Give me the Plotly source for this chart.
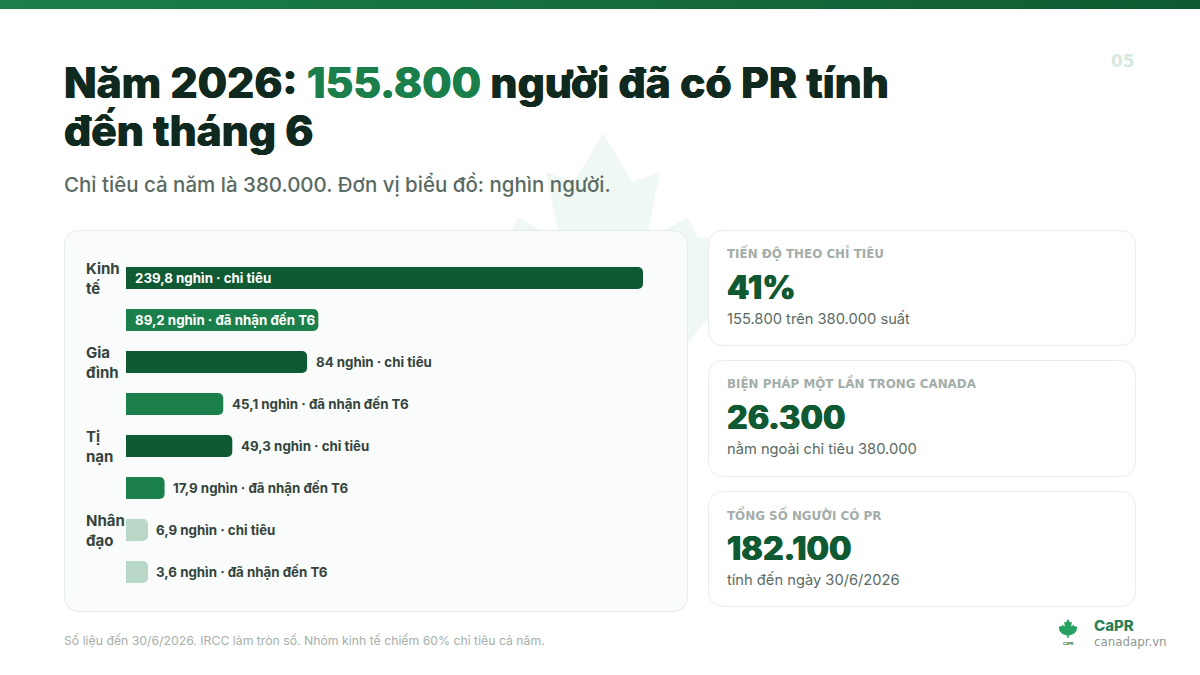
import plotly.graph_objects as go

W, H = 1200, 675
FONT = "Inter"

# data, in thousands of people
groups = ["Kinh tế", "Gia đình", "Tị nạn", "Nhân đạo"]
group_lines = ["Kinh<br>tế", "Gia<br>đình", "Tị<br>nạn", "Nhân<br>đạo"]
quota = [239.8, 84, 49.3, 6.9]
received = [89.2, 45.1, 17.9, 3.6]
kinds = ["chỉ tiêu", "đã nhận đến T6"]
min_bar = 10.2  # small groups are drawn with a minimum width

title_before = "Năm 2026: "
title_figure = "155.800"
title_after = " người đã có PR tính"
title_line2 = "đến tháng 6"
subtitle = "Chỉ tiêu cả năm là 380.000. Đơn vị biểu đồ: nghìn người."
footnote = "Số liệu đến 30/6/2026. IRCC làm tròn số. Nhóm kinh tế chiếm 60% chỉ tiêu cả năm."

card_labels = ["TIẾN ĐỘ THEO CHỈ TIÊU", "BIỆN PHÁP MỘT LẦN TRONG CANADA", "TỔNG SỐ NGƯỜI CÓ PR"]
card_values = ["41%", "26.300", "182.100"]
card_notes = ["155.800 trên 380.000 suất", "nằm ngoài chỉ tiêu 380.000", "tính đến ngày 30/6/2026"]

DARK = "#0F5A32"
MID = "#1A7F4B"
PALE = "#B9D8C8"
INK = "#10291E"
TEXT = "#34443D"
MUTED = "#5A6B64"


def px(x):
    return x / W


def py(y):
    return 1 - y / H


def fmt(v):
    return f"{v:g}".replace(".", ",") + " nghìn"


def rounded(x0, y0, x1, y1, r, fill, line=None):
    p = (
        f"M {px(x0 + r)} {py(y0)} L {px(x1 - r)} {py(y0)} Q {px(x1)} {py(y0)} {px(x1)} {py(y0 + r)} "
        f"L {px(x1)} {py(y1 - r)} Q {px(x1)} {py(y1)} {px(x1 - r)} {py(y1)} "
        f"L {px(x0 + r)} {py(y1)} Q {px(x0)} {py(y1)} {px(x0)} {py(y1 - r)} "
        f"L {px(x0)} {py(y0 + r)} Q {px(x0)} {py(y0)} {px(x0 + r)} {py(y0)} Z"
    )
    return dict(type="path", path=p, xref="paper", yref="paper", fillcolor=fill,
                line=dict(color=line or fill, width=1), layer="below")


# right half of a maple leaf, tip at 0,0
leaf_half = [(0, 0), (29, 49), (57, 39), (45, 99), (50, 104), (85, 84), (94, 104),
             (135, 110), (122, 150), (128, 160), (85, 209), (10, 240), (10, 270)]


def leaf(cx, top, scale, fill):
    pts = [(cx + dx * scale, top + dy * scale) for dx, dy in leaf_half]
    pts += [(cx - dx * scale, top + dy * scale) for dx, dy in reversed(leaf_half)]
    p = "M " + " L ".join(f"{px(x)} {py(y)}" for x, y in pts) + " Z"
    return dict(type="path", path=p, xref="paper", yref="paper", fillcolor=fill,
                line=dict(width=0), layer="below")


def mix(a, b, t):
    ca = [int(a[i:i + 2], 16) for i in (1, 3, 5)]
    cb = [int(b[i:i + 2], 16) for i in (1, 3, 5)]
    return "rgb(%d,%d,%d)" % tuple(round(u + (v - u) * t) for u, v in zip(ca, cb))


def label(x, y, text, size, color, weight=400, family=FONT, anchor="left", heavy=0):
    font = dict(family=family, size=size, color=color, weight=weight)
    if heavy:
        # Inter stops short of the reference's heaviest weight, a thin shadow thickens it
        font["shadow"] = f"{heavy}px 0 0 {color}, -{heavy}px 0 0 {color}"
    return dict(x=px(x), y=py(y), xref="paper", yref="paper", text=text, showarrow=False,
                xanchor=anchor, yanchor="middle", align="left", borderpad=0, font=font)


rows, shown, colors, row_values, row_kinds = [], [], [], [], []
for i, g in enumerate(groups):
    for kind, values, col in zip(kinds, (quota, received), (DARK, MID)):
        rows.append(f"{g} · {kind}")
        shown.append(max(values[i], min_bar))
        colors.append(PALE if values[i] < min_bar else col)
        row_values.append(values[i])
        row_kinds.append(kind)

fig = go.Figure(
    go.Bar(x=shown, y=rows, orientation="h", marker=dict(color=colors, line=dict(width=0)),
           width=22 / 42, hoverinfo="skip")
)

# top band fades from the lighter green to the darker one
steps = 80
shapes = [
    dict(type="rect", xref="paper", yref="paper", x0=i / steps, x1=(i + 1) / steps + 0.001,
         y0=py(9), y1=1, fillcolor=mix(MID, DARK, i / (steps - 1)), line=dict(width=0), layer="below")
    for i in range(steps)
]
shapes.append(leaf(603, 133, 1.0, "#F0F8F4"))
shapes.append(rounded(64.5, 230.5, 687.5, 611.5, 16, "#F9FCFB", "#E3EBE7"))
card_tops = [(230.5, 345.5), (360.5, 476.5), (491.5, 606.5)]
for top, bottom in card_tops:
    shapes.append(rounded(708.5, top, 1135.5, bottom, 16, "#FFFFFF", "#E8EEEB"))
shapes.append(leaf(1068, 619, 0.07, "#27A162"))

notes = [
    label(62.5, 82, f'{title_before}<span style="color:{MID};text-shadow:0.4px 0 0 {MID},-0.4px 0 0 {MID}">{title_figure}</span>{title_after}',
          42.6, INK, 800, heavy=0.4),
    label(62.5, 130, title_line2, 42.6, INK, 800, heavy=0.4),
    label(62.5, 184, subtitle, 20.5, MUTED, 500),
    label(62.5, 640, footnote, 12.25, "#A5AFAB"),
    label(1109.5, 61, "05", 17, "#D6E9E0", 800, "DejaVu Sans"),
    label(1093, 625, "CaPR", 15, "#2B8058", 800),
    label(1092.5, 642, "canadapr.vn", 11.8, "#8D9894", 500, "DejaVu Sans"),
    label(1068, 643, "CaPR", 4, "#1A7F4B", 700, anchor="center"),
]

for (top, bottom), head, val, note in zip(card_tops, card_labels, card_values, card_notes):
    notes.append(label(725.5, top + 22.5, head, 11.9, "#A3ADA9", 700, "DejaVu Sans"))
    notes.append(label(725.5, top + 57, val, 32.5, DARK, 800, heavy=0.5))
    notes.append(label(725.5, top + 88.5, note, 14.7, MUTED))

# group names sit beside the quota row
for i, lines in enumerate(group_lines):
    notes.append(dict(x=px(85.5), xref="paper", y=rows[i * 2], yref="y", text=lines, showarrow=False,
                      xanchor="left", yanchor="middle", align="left", borderpad=0,
                      font=dict(family=FONT, size=15, color=TEXT, weight=700)))

# value labels go inside the bar when they fit, after it otherwise
for row, bar, value, kind in zip(rows, shown, row_values, row_kinds):
    inside = bar > 85 and value != 84
    notes.append(dict(x=0 if inside else bar, xref="x", y=row, yref="y", xshift=7.5, text=f"{fmt(value)} · {kind}",
                      showarrow=False, xanchor="left", yanchor="middle", borderpad=0,
                      font=dict(family=FONT, size=13.3, color="#FFFFFF" if inside else TEXT, weight=700)))

fig.update_layout(
    width=W,
    height=H,
    margin=dict(l=0, r=0, t=0, b=0),
    paper_bgcolor="#FFFFFF",
    plot_bgcolor="rgba(0,0,0,0)",
    showlegend=False,
    barcornerradius=5,
    xaxis=dict(domain=[px(126), px(643)], range=[0, 239.8], visible=False),
    yaxis=dict(domain=[py(593), py(257)], categoryorder="array", categoryarray=rows,
               autorange="reversed", visible=False),
    shapes=shapes,
    annotations=notes,
)

fig.write_html("out.html", config=dict(displayModeBar=False), post_script="document.body.style.margin='0';")
